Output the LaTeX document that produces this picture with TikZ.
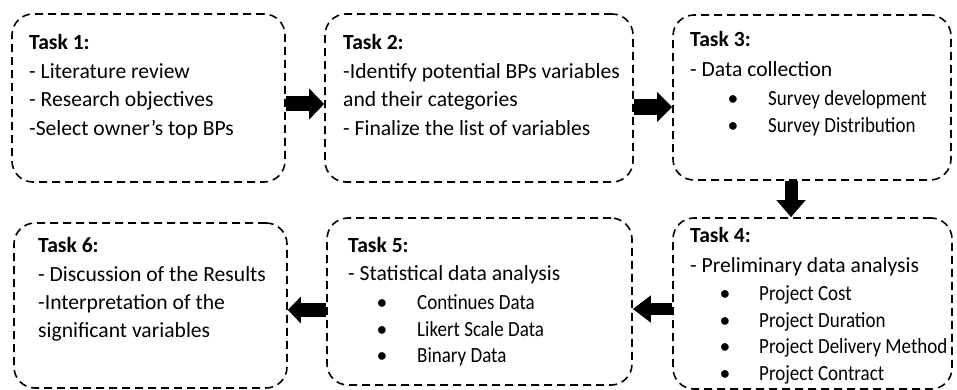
\documentclass[tikz,border=0pt]{standalone}
\usepackage{fontspec}
\setmainfont{Carlito}
\newfontfamily\narrowfont[FakeStretch=0.88]{Carlito}
\usetikzlibrary{arrows.meta}
\begin{document}
\begin{tikzpicture}[x=1pt,y=-1pt,
  box/.style={draw, dash pattern=on 8pt off 5pt, line width=1.6pt, rounded corners=21pt, inner sep=0pt},
  txt/.style={anchor=base west, inner sep=0pt, font=\fontsize{21.6}{26}\selectfont},
  itm/.style={anchor=base west, inner sep=0pt, font=\narrowfont\fontsize{21.6}{26}\selectfont},
  ttl/.style={anchor=base west, inner sep=0pt, font=\fontsize{21.6}{26}\selectfont\bfseries},
  bul/.style={anchor=base, inner sep=0pt, font=\fontsize{21.6}{26}\selectfont},
  blk/.style={line width=15pt, -{Triangle[width=30pt,length=15pt]}}]
\useasboundingbox (0,0) rectangle (957,390);

% boxes
\node[box, minimum width=273pt, minimum height=168pt] (t1) at (148.5,98) {};
\node[box, minimum width=308pt, minimum height=168pt] (t2) at (479,98) {};
\node[box, minimum width=278pt, minimum height=165pt] (t3) at (812,97.5) {};
\node[box, minimum width=279pt, minimum height=171pt] (t4) at (812.5,303.5) {};
\node[box, minimum width=305pt, minimum height=167pt] (t5) at (479.5,301.5) {};
\node[box, minimum width=273pt, minimum height=165pt] (t6) at (150.5,305.5) {};

% Task 1
\node[ttl] (t1h) at (29,50) {Task 1:};
\node[txt] (t1a) at (29,79) {- Literature review};
\node[txt] (t1b) at (29,107) {- Research objectives};
\node[txt] (t1c) at (29,136) {-Select owner’s top BPs};

% Task 2
\node[ttl] (t2h) at (343,50) {Task 2:};
\node[txt] (t2a) at (343,79) {-Identify potential BPs variables};
\node[txt] (t2b) at (343,107) {and their categories};
\node[txt] (t2c) at (343,136) {- Finalize the list of variables};

% Task 3
\node[ttl] (t3h) at (690,47) {Task 3:};
\node[txt] (t3a) at (690,77) {- Data collection};
\node[bul] (t3b1) at (733,106) {\textbullet};
\node[itm] (t3b) at (768,106) {Survey development};
\node[bul] (t3c1) at (733,133) {\textbullet};
\node[itm] (t3c) at (768,133) {Survey Distribution};

% Task 4
\node[ttl] (t4h) at (690,242) {Task 4:};
\node[txt] (t4a) at (690,272) {- Preliminary data analysis};
\node[bul] (t4b1) at (725,300) {\textbullet};
\node[itm] (t4b) at (759,300) {Project Cost};
\node[bul] (t4c1) at (725,327) {\textbullet};
\node[itm] (t4c) at (759,327) {Project Duration};
\node[bul] (t4d1) at (725,353) {\textbullet};
\node[itm] (t4d) at (759,353) {Project Delivery Method};
\node[bul] (t4e1) at (725,380) {\textbullet};
\node[itm] (t4e) at (759,380) {Project Contract};

% Task 5
\node[ttl] (t5h) at (348,252) {Task 5:};
\node[txt] (t5a) at (348,280) {- Statistical data analysis};
\node[bul] (t5b1) at (382,309) {\textbullet};
\node[itm] (t5b) at (417,309) {Continues Data};
\node[bul] (t5c1) at (382,336) {\textbullet};
\node[itm] (t5c) at (417,336) {Likert Scale Data};
\node[bul] (t5d1) at (382,362) {\textbullet};
\node[itm] (t5d) at (417,362) {Binary Data};

% Task 6
\node[ttl] (t6h) at (38,252) {Task 6:};
\node[txt] (t6a) at (38,281) {- Discussion of the Results};
\node[txt] (t6b) at (38,309) {-Interpretation of the};
\node[txt] (t6c) at (38,337) {significant variables};

% arrows
\draw[blk] (t1.east |- 0,104) -- (t2.west |- 0,104);
\draw[blk, line width=16pt, -{Triangle[width=29pt,length=15pt]}] (t2.east |- 0,107) -- (t3.west |- 0,107);
\draw[blk, line width=13pt, -{Triangle[width=28pt,length=17pt]}] (t3.south -| 791,0) -- (t4.north -| 791,0);
\draw[blk, line width=12pt, -{Triangle[width=26pt,length=18pt]}] (t4.west |- 0,309) -- (t5.east |- 0,309);
\draw[blk, line width=14pt, -{Triangle[width=26pt,length=13pt]}] (t5.west |- 0,310) -- (t6.east |- 0,310);
\end{tikzpicture}
\end{document}
